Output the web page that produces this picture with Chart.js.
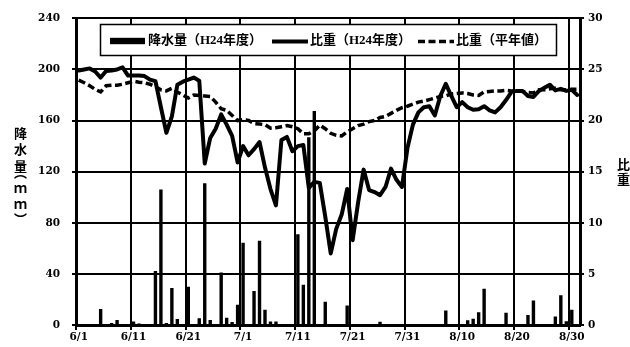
<!DOCTYPE html>
<html>
<head>
<meta charset="utf-8">
<script src="https://cdn.jsdelivr.net/npm/chart.js@4/dist/chart.umd.min.js"></script>
<style>
  html, body { margin: 0; padding: 0; background: #fff; }
  #wrap { width: 630px; height: 347px; }
</style>
</head>
<body>
<div id="wrap"><canvas id="c" width="630" height="347"></canvas></div>
<script>
// ---- categories ----
const months = [6, 7, 8];
const monthDays = [30, 31, 31];
const days = [];
months.forEach((m, i) => { for (let d = 1; d <= monthDays[i]; d++) days.push(m + '/' + d); });
const tickLabels = ['6/1','6/11','6/21','7/1','7/11','7/21','7/31','8/10','8/20','8/30'];

// ---- 降水量 (mm), H24 ----
const rainJun = [0,0,0,0,12.5,0,1.5,4,0,0, 2.7,1.2,0,0,42.3,106,1.5,29,4.7,0, 30,0,5.2,111,4,0,41,5.7,2.3,15.8];
const rainJul = [64.3,0,26.7,66,12,2.7,2.7,0,0,0, 71,31.4,147,167.5,0,18.2,0,0,0,15.2, 0,0,0,0,0,2.5,0,0,0,0, 0];
const rainAug = [0,0,0,0,0,0,11.3,0,0,0, 3.8,4.9,10,28.4,0,0,0,9.5,0,0, 0,7.8,19.2,0,0,0,6.7,23.2,3,11.9,0];

// ---- 比重 (H24年度) ----
const sgJun = [24.9,25.0,25.1,24.8,24.2,24.85,24.9,25.0,25.2,24.4, 24.4,24.4,24.35,24.0,23.85,21.3,18.8,20.4,23.5,23.8, 24.0,24.2,23.9,15.8,18.3,19.2,20.6,19.6,18.5,15.9];
const sgJul = [17.5,16.6,17.2,17.9,15.4,13.3,11.7,18.1,18.4,17.0, 17.5,17.6,13.4,14.0,13.9,10.6,7.0,9.4,10.8,13.3, 8.3,12.0,15.2,13.2,13.0,12.7,13.5,15.3,14.2,13.5, 17.3];
const sgAug = [19.6,20.8,21.3,21.4,20.5,22.4,23.6,22.4,21.3,21.8, 21.3,21.05,21.1,21.4,21.0,20.8,21.3,22.0,22.8,22.9, 22.9,22.4,22.3,22.9,23.2,23.5,22.95,23.1,22.9,23.0, 22.5];

// ---- 比重 (平年値) ----
const nmJun = [23.95,23.7,23.4,23.05,22.8,23.4,23.45,23.45,23.55,23.7, 23.85,23.75,23.7,23.55,23.3,23.0,22.9,23.15,22.8,22.5, 22.2,22.5,22.45,22.4,22.35,21.8,21.15,21.0,20.5,20.0];
const nmJul = [20.1,20.0,19.7,19.65,19.6,19.25,19.3,19.4,19.5,19.4, 19.2,18.7,18.7,19.0,19.55,19.2,18.75,18.55,18.5,18.9, 19.2,19.5,19.65,19.9,20.0,20.3,20.4,20.7,21.0,21.25, 21.4];
const nmAug = [21.6,21.8,21.9,22.05,22.2,22.35,22.4,22.6,22.65,22.7, 22.65,22.5,22.45,22.8,22.85,22.9,22.9,22.95,22.9,22.9, 22.85,22.75,22.7,23.0,23.0,23.1,23.15,23.0,23.0,23.05, 23.05];

const rain = rainJun.concat(rainJul, rainAug);
const sgH24 = sgJun.concat(sgJul, sgAug);
const sgNormal = nmJun.concat(nmJul, nmAug);

const tickFont = { family: '"DejaVu Serif"', weight: 'bold', size: 10.5 };
const textFont = 'bold 13px "Liberation Serif", "Noto Sans CJK JP"';
const cjkFont = 'bold 13px "Noto Sans CJK JP"';

const decorPlugin = {
  id: 'decor',
  afterDatasetsDraw(chart) {
    const c = chart.ctx;
    const ds = chart.data.datasets;
    c.save();
    // legend box
    c.fillStyle = '#fff';
    c.fillRect(100, 24, 457, 32);
    c.strokeStyle = '#000';
    c.lineWidth = 1.5;
    c.strokeRect(100.5, 24.5, 456, 31);
    const items = [ { d: ds[2], x: 110 }, { d: ds[0], x: 272 }, { d: ds[1], x: 418 } ];
    const cy = 41;
    items.forEach(it => {
      c.save();
      if (it.d.type === 'bar') {
        c.fillStyle = '#000';
        c.fillRect(it.x, cy - 3.2, 35, 6.4);
      } else {
        c.strokeStyle = '#000';
        c.lineWidth = it.d.borderWidth;
        c.setLineDash(it.d.borderDash || []);
        c.beginPath();
        c.moveTo(it.x, cy + 0.5);
        c.lineTo(it.x + 36, cy + 0.5);
        c.stroke();
      }
      c.restore();
      c.fillStyle = '#000';
      c.font = textFont;
      c.textBaseline = 'middle';
      c.textAlign = 'left';
      c.fillText(it.d.label, it.x + 38, cy);
    });
    c.restore();
  },
  afterDraw(chart) {
    const c = chart.ctx;
    c.save();
    c.fillStyle = '#000';
    c.textAlign = 'center';
    c.textBaseline = 'middle';
    c.font = cjkFont;
    const leftTitle = [['降',133],['水',149.5],['量',166],['︵',172],['ｍ',188],['ｍ',204],['︶',219]];
    leftTitle.forEach(([ch, y]) => c.fillText(ch, 20.5, y));
    const rightTitle = [['比',164],['重',179]];
    rightTitle.forEach(([ch, y]) => c.fillText(ch, 623.5, y));
    c.restore();
  }
};

new Chart(document.getElementById('c'), {
  type: 'bar',
  data: {
    labels: days,
    datasets: [
      { type: 'line', label: '比重（H24年度）', data: sgH24, yAxisID: 'y1',
        borderColor: '#000', borderWidth: 4, pointRadius: 0, tension: 0,
        borderJoinStyle: 'round', borderCapStyle: 'round', fill: false, order: 1 },
      { type: 'line', label: '比重（平年値）', data: sgNormal, yAxisID: 'y1',
        borderColor: '#000', borderWidth: 3.5, borderDash: [7, 3.5], pointRadius: 0, tension: 0,
        fill: false, order: 2 },
      { type: 'bar', label: '降水量（H24年度）', data: rain, yAxisID: 'y',
        backgroundColor: '#000', borderWidth: 0, barPercentage: 0.62, categoryPercentage: 1, order: 3 }
    ]
  },
  options: {
    responsive: false,
    animation: false,
    devicePixelRatio: 1,
    layout: { padding: { top: 17, left: 0, right: 0, bottom: 0 } },
    plugins: { legend: { display: false }, tooltip: { enabled: false } },
    scales: {
      x: {
        type: 'category',
        offset: true,
        grid: {
          offset: true,
          color: ctx => (ctx.index % 10 === 0 ? '#000' : 'rgba(0,0,0,0)'),
          lineWidth: 2,
          tickLength: 5
        },
        border: { color: '#000', width: 3 },
        ticks: {
          autoSkip: false, maxRotation: 0, minRotation: 0, padding: 1,
          color: '#000', font: tickFont,
          callback: (v, i) => (tickLabels.includes(days[i]) ? days[i] : '')
        },
        afterFit: s => { s.height = 22; }
      },
      y: {
        position: 'left', min: 0, max: 240,
        ticks: { stepSize: 40, color: '#000', padding: 12, font: tickFont },
        grid: { color: '#000', lineWidth: 2, tickLength: 4 },
        border: { color: '#000', width: 3 },
        afterFit: s => { s.width = 76; }
      },
      y1: {
        position: 'right', min: 0, max: 30,
        ticks: { stepSize: 5, color: '#000', padding: 4, font: tickFont },
        grid: { drawOnChartArea: false, color: '#000', lineWidth: 2, tickLength: 4 },
        border: { color: '#000', width: 3 },
        afterFit: s => { s.width = 50; }
      }
    }
  },
  plugins: [decorPlugin]
});
</script>
</body>
</html>
